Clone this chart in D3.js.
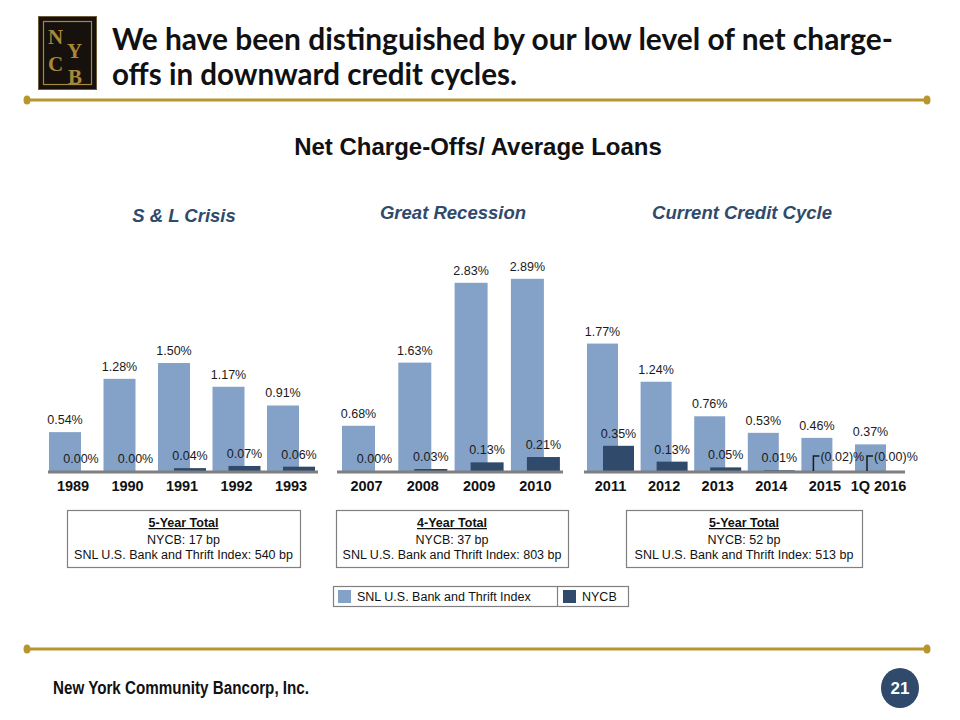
<!DOCTYPE html>
<html>
<head>
<meta charset="utf-8">
<script src="https://cdn.jsdelivr.net/npm/d3@7/dist/d3.min.js"></script>
<style>
  html, body { margin: 0; padding: 0; background: #fff; }
  svg { display: block; }
</style>
</head>
<body>
<svg id="chart" width="960" height="720"></svg>
<script>
// ---------------- DATA ----------------
const slideTitle = ["We have been distinguished by our low level of net charge-", "offs in downward credit cycles."];
const chartTitle = "Net Charge-Offs/ Average Loans";
const seriesNames = ["SNL U.S. Bank and Thrift Index", "NYCB"];

const p1Title = "S & L Crisis";
const p1Years = ["1989", "1990", "1991", "1992", "1993"];
const p1Snl = [0.54, 1.28, 1.50, 1.17, 0.91];
const p1Nycb = [0.00, 0.00, 0.04, 0.07, 0.06];
const p1SnlLabels = ["0.54%", "1.28%", "1.50%", "1.17%", "0.91%"];
const p1NycbLabels = ["0.00%", "0.00%", "0.04%", "0.07%", "0.06%"];
const p1Box = ["5-Year Total", "NYCB:  17 bp", "SNL U.S. Bank and Thrift Index: 540 bp"];

const p2Title = "Great Recession";
const p2Years = ["2007", "2008", "2009", "2010"];
const p2Snl = [0.68, 1.63, 2.83, 2.89];
const p2Nycb = [0.00, 0.03, 0.13, 0.21];
const p2SnlLabels = ["0.68%", "1.63%", "2.83%", "2.89%"];
const p2NycbLabels = ["0.00%", "0.03%", "0.13%", "0.21%"];
const p2Box = ["4-Year Total", "NYCB: 37 bp", "SNL U.S. Bank and Thrift Index: 803 bp"];

const p3Title = "Current Credit Cycle";
const p3Years = ["2011", "2012", "2013", "2014", "2015", "1Q 2016"];
const p3Snl = [1.77, 1.24, 0.76, 0.53, 0.46, 0.37];
const p3Nycb = [0.35, 0.13, 0.05, 0.01, -0.02, -0.001];
const p3SnlLabels = ["1.77%", "1.24%", "0.76%", "0.53%", "0.46%", "0.37%"];
const p3NycbLabels = ["0.35%", "0.13%", "0.05%", "0.01%", "(0.02)%", "(0.00)%"];
const p3Box = ["5-Year Total", "NYCB: 52 bp", "SNL U.S. Bank and Thrift Index: 513 bp"];

const footerText = "New York Community Bancorp, Inc.";
const pageNumber = "21";

// ---------------- STYLE ----------------
const SNL_COLOR = "#84a2c8";
const NYCB_COLOR = "#2f4a6b";
const GOLD = "#b8962e";
const NAVY = "#2f4a6b";
const FONT = "'Liberation Sans', Arial, sans-serif";
const BASE_Y = 471;

const svg = d3.select("#chart");

// ---------------- HEADER ----------------
// Logo
const logo = svg.append("g");
logo.append("rect").attr("x", 38.5).attr("y", 16.5).attr("width", 58).attr("height", 73)
  .attr("fill", "#16110c").attr("stroke", "#6b5a35").attr("stroke-width", 1);
logo.append("rect").attr("x", 43.5).attr("y", 21.5).attr("width", 48).attr("height", 63)
  .attr("fill", "none").attr("stroke", "#a8873a").attr("stroke-width", 1.2);
const logoLetters = [["N", 48, 44], ["Y", 67, 58], ["C", 48, 71], ["B", 68, 84]];
logo.selectAll("text.l").data(logoLetters).join("text")
  .attr("x", d => d[1]).attr("y", d => d[2])
  .attr("font-family", "'Liberation Serif', 'DejaVu Serif', serif")
  .attr("font-weight", "bold").attr("font-size", 21)
  .attr("fill", "#a8873a").text(d => d[0]);

// Slide title
const titleG = svg.append("g");
const titleTargets = [781, 405];
slideTitle.forEach((t, i) => {
  titleG.append("text")
    .attr("x", 112).attr("y", 50 + i * 35)
    .attr("font-family", "Lato, 'Open Sans', sans-serif")
    .attr("font-weight", "bold").attr("font-size", 30)
    .attr("fill", "#111")
    .attr("textLength", titleTargets[i]).attr("lengthAdjust", "spacingAndGlyphs")
    .text(t);
});

// Gold rules
function goldRule(y) {
  svg.append("line").attr("x1", 27).attr("x2", 927).attr("y1", y).attr("y2", y)
    .attr("stroke", GOLD).attr("stroke-width", 3);
  [27, 927].forEach(x => svg.append("ellipse").attr("cx", x).attr("cy", y)
    .attr("rx", 3.5).attr("ry", 4.5).attr("fill", GOLD));
}
goldRule(100);
goldRule(649);

// Chart title
svg.append("text").attr("x", 478).attr("y", 155).attr("text-anchor", "middle")
  .attr("font-family", FONT).attr("font-weight", "bold").attr("font-size", 24)
  .attr("fill", "#111").text(chartTitle);

// ---------------- PANELS ----------------
const panels = [
  { title: p1Title, titleX: 184, titleY: 222, years: p1Years, snl: p1Snl, nycb: p1Nycb,
    snlL: p1SnlLabels, nycbL: p1NycbLabels, box: p1Box,
    x0: 49, step: 54.5, bw: 32, off: 16, lineX: [48, 318], k: 72, boxX: [67, 300] },
  { title: p2Title, titleX: 453, titleY: 219, years: p2Years, snl: p2Snl, nycb: p2Nycb,
    snlL: p2SnlLabels, nycbL: p2NycbLabels, box: p2Box,
    x0: 342, step: 56.3, bw: 33, off: 16, lineX: [337, 563], k: 66.5, boxX: [336, 568] },
  { title: p3Title, titleX: 742, titleY: 219, years: p3Years, snl: p3Snl, nycb: p3Nycb,
    snlL: p3SnlLabels, nycbL: p3NycbLabels, box: p3Box,
    x0: 587, step: 53.6, bw: 31, off: 16, lineX: [584, 905], k: 72, boxX: [626, 862] }
];

panels.forEach(p => {
  const g = svg.append("g");
  const n = p.years.length;
  const gw = p.bw + p.off;
  const x = d3.scaleBand().domain(p.years)
    .range([p.x0, p.x0 + p.step * (n - 1) + gw])
    .paddingInner((p.step - gw) / p.step).paddingOuter(0);
  const maxV = d3.max(p.snl);
  const y = d3.scaleLinear().domain([0, maxV]).range([BASE_Y, BASE_Y - maxV * p.k]);

  // section title
  g.append("text").attr("x", p.titleX).attr("y", p.titleY).attr("text-anchor", "middle")
    .attr("font-family", FONT).attr("font-weight", "bold").attr("font-style", "italic")
    .attr("font-size", 18.5).attr("fill", NAVY).text(p.title);

  const rows = p.years.map((yr, i) => ({ yr, snl: p.snl[i], nycb: p.nycb[i], sl: p.snlL[i], nl: p.nycbL[i] }));

  // SNL bars
  g.selectAll("rect.snl").data(rows).join("rect")
    .attr("x", d => x(d.yr)).attr("width", p.bw)
    .attr("y", d => y(d.snl)).attr("height", d => BASE_Y - y(d.snl))
    .attr("fill", SNL_COLOR);
  // NYCB bars (positive only)
  g.selectAll("rect.nycb").data(rows.filter(d => d.nycb > 0)).join("rect")
    .attr("x", d => x(d.yr) + p.off).attr("width", p.bw)
    .attr("y", d => y(d.nycb)).attr("height", d => BASE_Y - y(d.nycb))
    .attr("fill", NYCB_COLOR);

  // baseline
  g.append("line").attr("x1", p.lineX[0]).attr("x2", p.lineX[1])
    .attr("y1", BASE_Y + 1).attr("y2", BASE_Y + 1)
    .attr("stroke", "#7f7f7f").attr("stroke-width", 3);

  // SNL labels
  g.selectAll("text.sl").data(rows).join("text")
    .attr("x", d => x(d.yr) + p.bw / 2).attr("y", d => y(d.snl) - 8)
    .attr("text-anchor", "middle").attr("font-family", FONT).attr("font-size", 12.5)
    .attr("fill", "#1a1a1a").text(d => d.sl);
  // NYCB labels (non-negative)
  g.selectAll("text.nl").data(rows.filter(d => d.nycb >= 0)).join("text")
    .attr("x", d => x(d.yr) + p.off + p.bw / 2).attr("y", d => y(d.nycb) - 8)
    .attr("text-anchor", "middle").attr("font-family", FONT).attr("font-size", 12.5)
    .attr("fill", "#1a1a1a").text(d => d.nl);
  // Negative NYCB: bracket leader + label
  const neg = rows.filter(d => d.nycb < 0);
  g.selectAll("path.neg").data(neg).join("path")
    .attr("d", d => {
      const bx = x(d.yr) + p.off - 4;
      return `M${bx},${BASE_Y} V${BASE_Y - 15} H${bx + 6}`;
    })
    .attr("fill", "none").attr("stroke", "#1a1a1a").attr("stroke-width", 1.5);
  g.selectAll("text.neg").data(neg).join("text")
    .attr("x", d => x(d.yr) + p.off + 3).attr("y", BASE_Y - 10)
    .attr("font-family", FONT).attr("font-size", 12.5).attr("fill", "#1a1a1a").text(d => d.nl);

  // year axis labels
  const axis = d3.axisBottom(x).tickSize(0).tickPadding(0);
  const ax = g.append("g").attr("transform", `translate(0,${BASE_Y + 10})`).call(axis);
  ax.select(".domain").remove();
  ax.selectAll("text").attr("font-family", FONT).attr("font-weight", "bold")
    .attr("font-size", 14.5).attr("fill", "#111").attr("dy", "0.71em");

  // summary box
  const bx0 = p.boxX[0], bx1 = p.boxX[1], cx = (bx0 + bx1) / 2;
  g.append("rect").attr("x", bx0 + 0.5).attr("y", 510.5).attr("width", bx1 - bx0).attr("height", 57)
    .attr("fill", "#fff").attr("stroke", "#808080").attr("stroke-width", 1.2);
  p.box.forEach((t, i) => {
    const tx = g.append("text").attr("x", cx).attr("y", 527 + (i === 0 ? 0 : i === 1 ? 17 : 32))
      .attr("text-anchor", "middle").attr("font-family", FONT).attr("font-size", 12.5)
      .attr("fill", "#111").text(t);
    if (i === 0) tx.attr("font-weight", "bold").attr("text-decoration", "underline");
  });
});

// ---------------- LEGEND ----------------
const lg = svg.append("g");
lg.append("rect").attr("x", 333.5).attr("y", 586.5).attr("width", 295).attr("height", 20)
  .attr("fill", "#fff").attr("stroke", "#808080").attr("stroke-width", 1.2);
lg.append("line").attr("x1", 557.5).attr("x2", 557.5).attr("y1", 586.5).attr("y2", 606.5)
  .attr("stroke", "#808080").attr("stroke-width", 1.2);
const legendItems = [
  { name: seriesNames[0], color: SNL_COLOR, x: 338 },
  { name: seriesNames[1], color: NYCB_COLOR, x: 563 }
];
legendItems.forEach(it => {
  lg.append("rect").attr("x", it.x).attr("y", 590).attr("width", 13).attr("height", 13).attr("fill", it.color);
  lg.append("text").attr("x", it.x + 19).attr("y", 601).attr("font-family", FONT)
    .attr("font-size", 12.5).attr("fill", "#111").text(it.name);
});

// ---------------- FOOTER ----------------
svg.append("text").attr("x", 53).attr("y", 694)
  .attr("font-family", "'Liberation Sans Narrow', 'Liberation Sans', Arial, sans-serif")
  .attr("font-weight", "bold").attr("font-size", 18).attr("fill", "#111")
  .attr("textLength", 256).attr("lengthAdjust", "spacingAndGlyphs")
  .text(footerText);
svg.append("ellipse").attr("cx", 900).attr("cy", 688).attr("rx", 19).attr("ry", 20).attr("fill", NAVY);
svg.append("text").attr("x", 900).attr("y", 694).attr("text-anchor", "middle")
  .attr("font-family", "'Liberation Sans Narrow', 'Liberation Sans', Arial, sans-serif")
  .attr("font-weight", "bold").attr("font-size", 17).attr("fill", "#fff").text(pageNumber);
</script>
</body>
</html>
